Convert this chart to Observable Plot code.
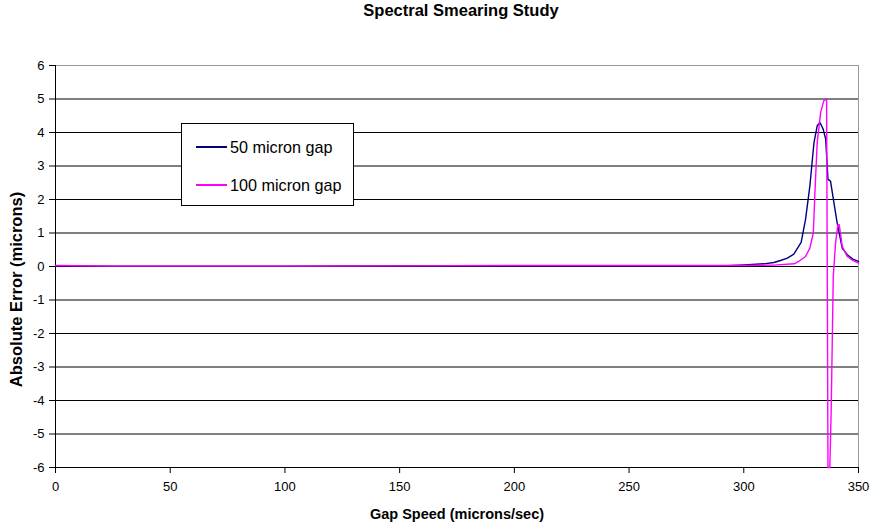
<!DOCTYPE html>
<html>
<head>
<meta charset="utf-8">
<script src="https://cdn.jsdelivr.net/npm/d3@7"></script>
<script src="https://cdn.jsdelivr.net/npm/@observablehq/plot@0.6"></script>
<style>
  body { margin: 0; background: #fff; font-family: "Liberation Sans", Arial, sans-serif; }
  #wrap { position: relative; width: 874px; height: 529px; }
  #legend { position: absolute; left: 181px; top: 123px; width: 171px; height: 81px; border: 1px solid #000; background: #fff; font-size: 16.2px; color: #000; }
  .row { position: absolute; left: 14px; display: flex; align-items: center; height: 20px; }
  .sw { display: inline-block; width: 31px; height: 2px; margin-right: 3px; }
</style>
</head>
<body>
<div id="wrap"></div>
<script>
const seriesNames = ["50 micron gap", "100 micron gap"];
const seriesColors = ["#000080", "#ff00ff"];

const speed50 = [0, 25, 50, 100, 150, 200, 250, 290, 300, 308.8, 313.1, 316, 319, 321.8, 325, 326.9, 328.8, 330.6, 332, 333.2, 334.6, 335.7, 336.7, 337.8, 339.3, 340.7, 342.9, 345.1, 347.5, 350];
const error50 = [0.02, 0.01, 0.01, 0.01, 0.02, 0.02, 0.02, 0.02, 0.05, 0.08, 0.12, 0.18, 0.25, 0.37, 0.72, 1.4, 2.4, 3.7, 4.2, 4.3, 4.1, 3.8, 2.6, 2.55, 1.9, 1.3, 0.55, 0.35, 0.22, 0.15];

const speed100 = [0, 25, 50, 100, 150, 200, 250, 300, 313, 322, 323.9, 326.9, 328.8, 330.3, 331, 332, 333.5, 334.9, 336.1, 336.7, 337.5, 338.1, 339, 340, 341, 341.6, 342.9, 345.1, 347.5, 350];
const error100 = [0.03, 0.01, 0.01, 0.01, 0.02, 0.03, 0.03, 0.03, 0.04, 0.08, 0.15, 0.3, 0.55, 1.0, 2.2, 3.7, 4.6, 4.95, 5.0, -6.0, -6.0, -4.3, -0.3, 0.7, 1.25, 1.25, 0.6, 0.3, 0.18, 0.1];

const xTicks = [0, 50, 100, 150, 200, 250, 300, 350];
const yTicks = [-6, -5, -4, -3, -2, -1, 0, 1, 2, 3, 4, 5, 6];

const d50 = speed50.map((s, i) => ({speed: s, err: error50[i]}));
const d100 = speed100.map((s, i) => ({speed: s, err: error100[i]}));

const chart = Plot.plot({
  width: 874,
  height: 529,
  marginTop: 65,
  marginLeft: 55,
  marginRight: 16,
  marginBottom: 62,
  style: { fontFamily: "Liberation Sans, Arial, sans-serif", fontSize: "13px", background: "#fff", overflow: "visible" },
  x: { domain: [0, 350] },
  y: { domain: [-6, 6] },
  marks: [
    Plot.gridY(yTicks, { stroke: "#000", strokeOpacity: 1, strokeWidth: 1 }),
    Plot.frame({ stroke: "#999", strokeWidth: 1 }),
    Plot.ruleY([-6], { stroke: "#000" }),
    Plot.ruleX([0], { stroke: "#000" }),
    Plot.axisY({ ticks: yTicks, tickSize: 6, tickPadding: 5, fontSize: 13, label: null, color: "#000", tickFormat: d => String(d) }),
    Plot.axisX({ ticks: xTicks, tickSize: 6, tickPadding: 8, fontSize: 13, label: null, color: "#000", tickFormat: d => String(d) }),
    Plot.text(["Absolute Error (microns)"], { frameAnchor: "left", textAnchor: "middle", lineAnchor: "middle", rotate: -90, dx: -39, dy: 23, fontWeight: "bold", fontSize: 16.5, fill: "#000" }),
    Plot.text(["Gap Speed (microns/sec)"], { frameAnchor: "bottom", textAnchor: "middle", lineAnchor: "middle", dy: 47, fontWeight: "bold", fontSize: 14.5, fill: "#000" }),
    Plot.text(["Spectral Smearing Study"], { frameAnchor: "top", textAnchor: "middle", lineAnchor: "middle", dx: 4, dy: -55, fontWeight: "bold", fontSize: 16.5, fill: "#000" }),
    Plot.line(d50, { x: "speed", y: "err", stroke: seriesColors[0], strokeWidth: 1.4 }),
    Plot.line(d100, { x: "speed", y: "err", stroke: seriesColors[1], strokeWidth: 1.4 })
  ]
});
document.getElementById("wrap").appendChild(chart);

const legend = document.createElement("div");
legend.id = "legend";
seriesNames.forEach((name, i) => {
  const row = document.createElement("div");
  row.className = "row";
  row.style.top = (i === 0 ? 13 : 51) + "px";
  const sw = document.createElement("span");
  sw.className = "sw";
  sw.style.background = seriesColors[i];
  const t = document.createElement("span");
  t.textContent = name;
  row.appendChild(sw); row.appendChild(t);
  legend.appendChild(row);
});
document.getElementById("wrap").appendChild(legend);
</script>
</body>
</html>
